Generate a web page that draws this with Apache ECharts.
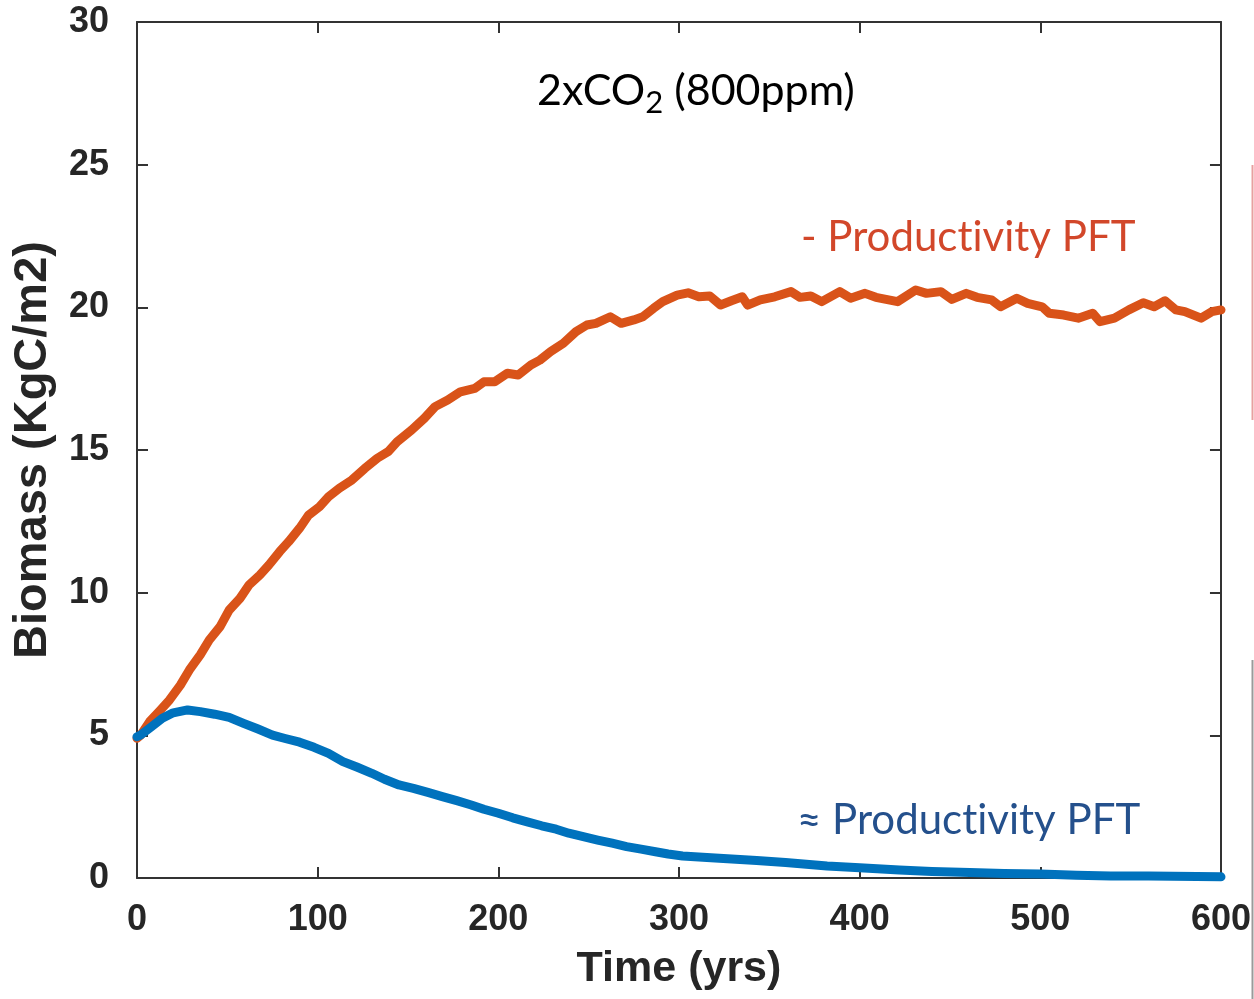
<!DOCTYPE html>
<html>
<head>
<meta charset="utf-8">
<script src="https://cdn.jsdelivr.net/npm/echarts@6/dist/echarts.min.js"></script>
<style>
html,body{margin:0;padding:0;background:#fff;}
#chart{width:1254px;height:999px;}
</style>
</head>
<body>
<div id="chart"></div>
<script>
// ---- data ----
const orangeYears = [0,2,7,13,18,24,29,35,40,46,51,57,62,68,73,79,84,90,95,101,106,112,119,126,133,139,144,152,159,165,172,179,187,192,198,205,211,218,223,229,236,243,249,254,262,268,275,280,286,291,299,305,311,317,323,329,335,338,345,353,362,367,373,379,389,395,403,409,421,431,437,445,451,459,465,473,478,487,493,501,505,513,521,529,533,541,549,557,563,569,575,580,589,595,600];
const orangeValues = [4.9,5.0,5.48,5.89,6.24,6.76,7.29,7.82,8.34,8.81,9.39,9.80,10.27,10.62,10.97,11.44,11.79,12.26,12.72,13.01,13.36,13.66,13.95,14.35,14.71,14.94,15.29,15.70,16.11,16.52,16.75,17.04,17.16,17.39,17.39,17.69,17.63,17.98,18.15,18.45,18.74,19.15,19.38,19.44,19.67,19.44,19.56,19.67,19.97,20.20,20.43,20.51,20.37,20.40,20.08,20.23,20.37,20.08,20.26,20.37,20.55,20.35,20.40,20.20,20.55,20.32,20.49,20.35,20.20,20.61,20.49,20.55,20.28,20.49,20.35,20.26,20.02,20.32,20.14,20.02,19.79,19.73,19.62,19.79,19.50,19.62,19.91,20.16,20.02,20.23,19.91,19.85,19.62,19.85,19.91];
const blueYears = [0,2,8,14,20,28,35,43,51,59,67,75,82,90,98,106,114,122,130,137,145,153,161,169,177,185,192,200,208,216,224,232,239,247,255,263,271,279,287,294,302,320,343,359,382,400,422,440,461,480,500,520,539,560,600];
const blueValues = [4.95,5.01,5.30,5.60,5.79,5.89,5.83,5.74,5.63,5.42,5.22,5.01,4.89,4.76,4.58,4.37,4.08,3.88,3.67,3.46,3.26,3.14,3.00,2.85,2.71,2.56,2.41,2.27,2.11,1.97,1.83,1.71,1.57,1.45,1.33,1.22,1.10,1.01,0.92,0.84,0.77,0.70,0.61,0.54,0.42,0.36,0.28,0.23,0.19,0.16,0.14,0.10,0.07,0.07,0.04];
const xTickLabels = ['0','100','200','300','400','500','600'];
const yTickLabels = ['0','5','10','15','20','25','30'];
const titleText = ['2xCO', '2', ' (800ppm)'];
// text split into two rich-text pieces so "t" and "i" are drawn as separate glyphs (no ligature)
const label1 = ['- Product', 'ivity PFT'];
const label2 = ['\u2248 Product', 'ivity PFT'];
const xName = 'Time (yrs)';
const yName = 'Biomass (KgC/m2)';

const pairs = (xs, ys) => xs.map((x, i) => [x, ys[i]]);

const chart = echarts.init(document.getElementById('chart'), null, {renderer: 'canvas'});
const axisColor = '#333333';
const labelFont = {fontFamily: 'Liberation Sans, Arial, sans-serif', fontWeight: 'bold', fontSize: 36, color: '#262626'};
const lineAxis = {show: true, onZero: false, lineStyle: {color: axisColor, width: 2}};
const tickIn = {show: true, inside: true, length: 11, lineStyle: {color: axisColor, width: 2}};

const option = {
  animation: false,
  backgroundColor: '#ffffff',
  grid: {left: 137, right: 26, top: 22, bottom: 121, containLabel: false},
  xAxis: [{
    type: 'value', min: 0, max: 600, interval: 100, position: 'bottom',
    name: xName, nameLocation: 'middle', nameGap: 70,
    nameTextStyle: {fontFamily: 'Liberation Sans, Arial, sans-serif', fontWeight: 'bold', fontSize: 43, color: '#262626'},
    axisLine: lineAxis, axisTick: tickIn,
    axisLabel: Object.assign({margin: 24, formatter: (v) => xTickLabels[Math.round(v / 100)]}, labelFont),
    splitLine: {show: false}
  }, {
    type: 'value', min: 0, max: 600, interval: 100, position: 'top',
    axisLine: lineAxis, axisTick: tickIn,
    axisLabel: {show: false}, splitLine: {show: false}
  }],
  yAxis: [{
    type: 'value', min: 0, max: 30, interval: 5, position: 'left',
    name: yName, nameLocation: 'middle', nameGap: 80, nameRotate: 90,
    nameTextStyle: {fontFamily: 'Liberation Sans, Arial, sans-serif', fontWeight: 'bold', fontSize: 47, color: '#262626'},
    axisLine: lineAxis, axisTick: tickIn,
    axisLabel: Object.assign({margin: 28, formatter: (v) => yTickLabels[Math.round(v / 5)]}, labelFont),
    splitLine: {show: false}
  }, {
    type: 'value', min: 0, max: 30, interval: 5, position: 'right',
    axisLine: lineAxis, axisTick: tickIn,
    axisLabel: {show: false}, splitLine: {show: false}
  }],
  series: [{
    type: 'line', xAxisIndex: 0, yAxisIndex: 0,
    data: pairs(orangeYears, orangeValues),
    showSymbol: false, smooth: false, clip: false,
    lineStyle: {color: '#D95319', width: 9, cap: 'round', join: 'round'},
    z: 3
  }, {
    type: 'line', xAxisIndex: 0, yAxisIndex: 0,
    data: pairs(blueYears, blueValues),
    showSymbol: false, smooth: false, clip: false,
    lineStyle: {color: '#0072BD', width: 9, cap: 'round', join: 'round'},
    z: 4
  }],
  graphic: [
    {
      type: 'text', left: 537, top: 70, z: 10,
      style: {
        text: '{a|' + titleText[0] + '}{b|' + titleText[1] + '}{a|' + titleText[2] + '}',
        fill: '#000',
        rich: {
          a: {fontFamily: 'Lato, sans-serif', fontSize: 43, fill: '#000', lineHeight: 54},
          b: {fontFamily: 'Lato, sans-serif', fontSize: 31, fill: '#000', lineHeight: 24, verticalAlign: 'bottom'}
        }
      }
    },
    {
      type: 'text', left: 801, top: 216, z: 10,
      style: {
        text: '{a|' + label1[0] + '}{a|' + label1[1] + '}',
        fill: '#D2472A',
        rich: {a: {fontFamily: 'Lato, sans-serif', fontSize: 42, fill: '#D2472A'}}
      }
    },
    {
      type: 'text', left: 797, top: 799, z: 10,
      style: {
        text: '{a|' + label2[0] + '}{a|' + label2[1] + '}',
        fill: '#24508C',
        rich: {a: {fontFamily: 'Lato, sans-serif', fontSize: 42, fill: '#24508C'}}
      }
    },
    {
      type: 'line', z: 1,
      shape: {x1: 1252.5, y1: 165, x2: 1252.5, y2: 420},
      style: {stroke: '#E8A0A0', lineWidth: 2}
    },
    {
      type: 'line', z: 1,
      shape: {x1: 1252.5, y1: 660, x2: 1252.5, y2: 999},
      style: {stroke: '#9A9A9A', lineWidth: 2}
    }
  ]
};
chart.setOption(option);
</script>
</body>
</html>
